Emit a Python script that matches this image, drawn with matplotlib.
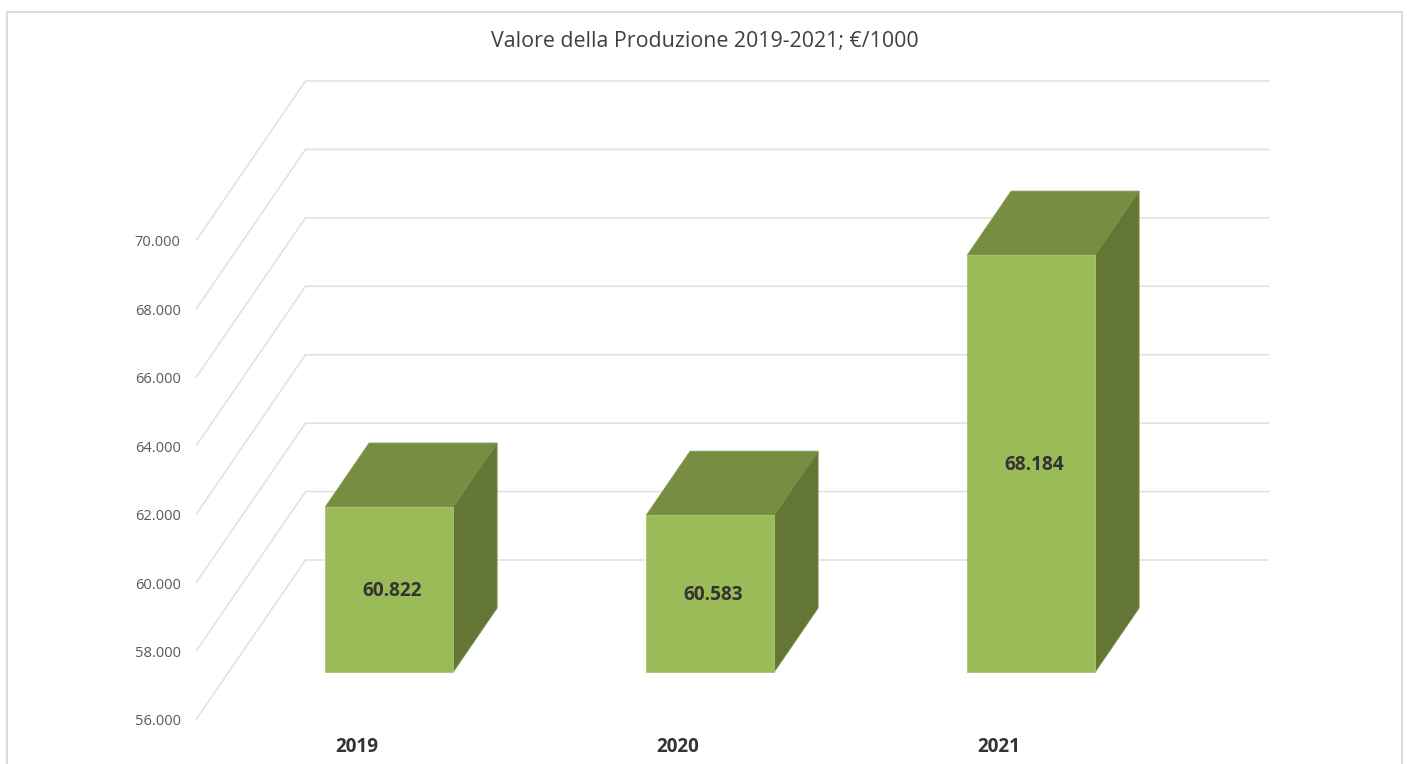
import matplotlib
matplotlib.use('Agg')
import matplotlib.pyplot as plt
from matplotlib.lines import Line2D
from matplotlib.patches import Polygon

years = ['2019', '2020', '2021']
values = [60822, 60583, 68184]
value_labels = ['60.822', '60.583', '68.184']
ticks = [56000, 58000, 60000, 62000, 64000, 66000, 68000, 70000]
tick_labels = ['56.000', '58.000', '60.000', '62.000', '64.000', '66.000', '68.000', '70.000']
title = 'Valore della Produzione 2019-2021; €/1000'

W, H = 1407, 764
# fake 3d: depth 0 is the front of the floor, depth 1 the back wall
DEPTH_X = 109 / 321
DEPTH_Y = 159 / 479 * 14000
BAR_FRONT = 47 / 159
BAR_BACK = 111 / 159
BAR_WIDTH = 128 / 321


def project(x, v, d):
    return x + d * DEPTH_X, v + d * DEPTH_Y


fig = plt.figure(figsize=(W / 100, H / 100), dpi=100, facecolor='white')
ax = fig.add_axes([196.5 / W, (H - 719) / H, 963 / W, 479 / H])
ax.set_xlim(-0.5, 2.5)
ax.set_ylim(56000, 70000)
ax.axis('off')

# outer frame, cut at the bottom of the picture
frame_x = [6.5 / W, 6.5 / W, 1402 / W, 1402 / W]
frame_y = [0, (H - 11.5) / H, (H - 11.5) / H, 0]
fig.add_artist(Line2D(frame_x, frame_y, color='#dcdcdc', lw=1.5))

for t, lab in zip(ticks, tick_labels):
    px = [project(-0.5, t, 0)[0], project(-0.5, t, 1)[0], project(2.5, t, 1)[0]]
    py = [t, project(-0.5, t, 1)[1], t + DEPTH_Y]
    ax.plot(px, py, color='#e0e0e0', lw=1.1, clip_on=False, zorder=1)
    ax.annotate(lab, (-0.5, t), xytext=(-16, -3), textcoords='offset pixels',
                ha='right', va='center', fontsize=10.5, color='#595959',
                family='Open Sans', annotation_clip=False)

for i, v in enumerate(values):
    x0 = i - BAR_WIDTH / 2
    x1 = i + BAR_WIDTH / 2
    a = project(x0, 56000, BAR_FRONT)
    b = project(x1, 56000, BAR_FRONT)
    c = project(x1, v, BAR_FRONT)
    d = project(x0, v, BAR_FRONT)
    e = project(x0, v, BAR_BACK)
    f = project(x1, v, BAR_BACK)
    g = project(x1, 56000, BAR_BACK)
    ax.add_patch(Polygon([d, c, f, e], closed=True, fc='#778d42', ec='#869a58', lw=0.6, clip_on=False, zorder=3))
    ax.add_patch(Polygon([b, g, f, c], closed=True, fc='#647636', ec='#778d42', lw=0.6, clip_on=False, zorder=3))
    ax.add_patch(Polygon([a, b, c, d], closed=True, fc='#9bbb59', ec='#a9c56f', lw=0.6, clip_on=False, zorder=4))
    ax.annotate(value_labels[i], (i + BAR_FRONT * DEPTH_X, (56000 + v) / 2 + BAR_FRONT * DEPTH_Y),
                xytext=(2.5, -1), textcoords='offset pixels',
                ha='center', va='center', fontsize=13.7, fontweight='bold', color='#333333',
                family='Open Sans', zorder=5)
    ax.annotate(years[i], (i, 56000), xytext=(0, -28), textcoords='offset pixels',
                ha='center', va='center', fontsize=13.6, fontweight='bold', color='#333333',
                family='Open Sans', annotation_clip=False)

fig.text(704.5 / W, (H - 42) / H, title, ha='center', va='center', fontsize=15.4,
         color='#404040', family='Open Sans')

fig.savefig('out.png', dpi=100)
